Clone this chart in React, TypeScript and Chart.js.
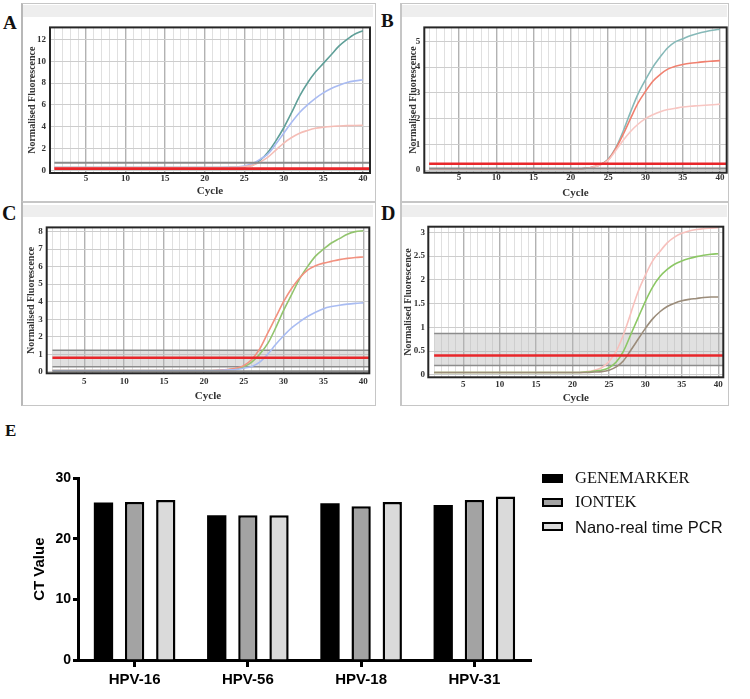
import React, { useEffect, useRef } from "react";
import { Chart, registerables } from "chart.js";

Chart.register(...registerables);

// ---------- DATA ----------
const CYCLES = [1, 2, 3, 4, 5, 6, 7, 8, 9, 10, 11, 12, 13, 14, 15, 16, 17, 18, 19, 20, 21, 22, 23, 24, 25, 26, 27, 28, 29, 30, 31, 32, 33, 34, 35, 36, 37, 38, 39, 40];
const X_LABELED = [5, 10, 15, 20, 25, 30, 35, 40];

// Panel A
const A_TEAL = [0.25, 0.25, 0.25, 0.25, 0.25, 0.25, 0.25, 0.25, 0.25, 0.25, 0.25, 0.25, 0.25, 0.25, 0.25, 0.25, 0.25, 0.25, 0.25, 0.25, 0.25, 0.25, 0.26, 0.28, 0.33, 0.45, 0.9, 1.65, 2.7, 3.9, 5.3, 6.8, 8.0, 9.0, 9.8, 10.6, 11.4, 12.0, 12.5, 12.8];
const A_BLUE = [0.25, 0.25, 0.25, 0.25, 0.25, 0.25, 0.25, 0.25, 0.25, 0.25, 0.25, 0.25, 0.25, 0.25, 0.25, 0.25, 0.25, 0.25, 0.25, 0.25, 0.25, 0.25, 0.27, 0.3, 0.4, 0.6, 1.0, 1.5, 2.4, 3.4, 4.4, 5.3, 6.0, 6.6, 7.1, 7.5, 7.8, 8.05, 8.2, 8.3];
const A_PINK = [0.25, 0.25, 0.25, 0.25, 0.25, 0.25, 0.25, 0.25, 0.25, 0.25, 0.25, 0.25, 0.25, 0.25, 0.25, 0.25, 0.25, 0.25, 0.25, 0.25, 0.25, 0.25, 0.26, 0.28, 0.33, 0.45, 0.75, 1.2, 1.85, 2.5, 3.0, 3.4, 3.65, 3.85, 3.95, 4.02, 4.06, 4.09, 4.11, 4.13];
const A_Y_TICKS = [0, 2, 4, 6, 8, 10, 12];
const A_RED = 0.15;
const A_GRAY = [0.68];

// Panel B
const B_TEAL = [0.05, 0.05, 0.05, 0.05, 0.05, 0.05, 0.05, 0.05, 0.05, 0.05, 0.05, 0.05, 0.05, 0.05, 0.05, 0.05, 0.05, 0.05, 0.05, 0.05, 0.05, 0.07, 0.12, 0.22, 0.42, 0.85, 1.5, 2.25, 2.95, 3.5, 4.0, 4.4, 4.75, 4.98, 5.1, 5.22, 5.3, 5.37, 5.43, 5.47];
const B_RED = [0.05, 0.05, 0.05, 0.05, 0.05, 0.05, 0.05, 0.05, 0.05, 0.05, 0.05, 0.05, 0.05, 0.05, 0.05, 0.05, 0.05, 0.05, 0.05, 0.05, 0.05, 0.07, 0.12, 0.22, 0.4, 0.82, 1.38, 2.0, 2.6, 3.05, 3.45, 3.72, 3.92, 4.03, 4.1, 4.15, 4.18, 4.21, 4.23, 4.25];
const B_PINK = [0.05, 0.05, 0.05, 0.05, 0.05, 0.05, 0.05, 0.05, 0.05, 0.05, 0.05, 0.05, 0.05, 0.05, 0.05, 0.05, 0.05, 0.05, 0.05, 0.05, 0.05, 0.07, 0.12, 0.21, 0.38, 0.75, 1.15, 1.5, 1.78, 2.0, 2.15, 2.27, 2.35, 2.4, 2.45, 2.48, 2.5, 2.52, 2.54, 2.56];
const B_Y_TICKS = [0, 1, 2, 3, 4, 5];
const B_THRESH_RED = 0.25;
const B_GRAY = [0.06];

// Panel C
const C_GREEN = [0.07, 0.07, 0.07, 0.07, 0.07, 0.07, 0.07, 0.07, 0.07, 0.07, 0.07, 0.07, 0.07, 0.07, 0.07, 0.07, 0.07, 0.07, 0.07, 0.07, 0.07, 0.08, 0.11, 0.17, 0.28, 0.55, 1.0, 1.6, 2.5, 3.5, 4.4, 5.3, 6.0, 6.6, 7.0, 7.35, 7.6, 7.85, 8.0, 8.05];
const C_SALMON = [0.07, 0.07, 0.07, 0.07, 0.07, 0.07, 0.07, 0.07, 0.07, 0.07, 0.07, 0.07, 0.07, 0.07, 0.07, 0.07, 0.07, 0.07, 0.07, 0.07, 0.07, 0.09, 0.13, 0.2, 0.35, 0.7, 1.3, 2.2, 3.1, 4.0, 4.75, 5.35, 5.8, 6.05, 6.2, 6.3, 6.4, 6.47, 6.52, 6.55];
const C_BLUE = [0.07, 0.07, 0.07, 0.07, 0.07, 0.07, 0.07, 0.07, 0.07, 0.07, 0.07, 0.07, 0.07, 0.07, 0.07, 0.07, 0.07, 0.07, 0.07, 0.07, 0.07, 0.08, 0.1, 0.12, 0.2, 0.3, 0.55, 1.0, 1.55, 2.05, 2.5, 2.85, 3.15, 3.4, 3.6, 3.72, 3.8, 3.86, 3.9, 3.93];
const C_Y_TICKS = [0, 1, 2, 3, 4, 5, 6, 7, 8];
const C_THRESH_RED = 0.8;
const C_BAND = [0.29, 1.22];
const C_GRAY = [0.02];

// Panel D
const D_PINK = [0.05, 0.05, 0.05, 0.05, 0.05, 0.05, 0.05, 0.05, 0.05, 0.05, 0.05, 0.05, 0.05, 0.05, 0.05, 0.05, 0.05, 0.05, 0.05, 0.05, 0.05, 0.07, 0.1, 0.15, 0.28, 0.5, 0.85, 1.3, 1.75, 2.1, 2.4, 2.6, 2.78, 2.9, 2.98, 3.03, 3.06, 3.08, 3.09, 3.1];
const D_GREEN = [0.05, 0.05, 0.05, 0.05, 0.05, 0.05, 0.05, 0.05, 0.05, 0.05, 0.05, 0.05, 0.05, 0.05, 0.05, 0.05, 0.05, 0.05, 0.05, 0.05, 0.05, 0.06, 0.08, 0.1, 0.15, 0.27, 0.5, 0.85, 1.2, 1.55, 1.85, 2.07, 2.22, 2.33, 2.4, 2.45, 2.49, 2.52, 2.54, 2.55];
const D_BROWN = [0.05, 0.05, 0.05, 0.05, 0.05, 0.05, 0.05, 0.05, 0.05, 0.05, 0.05, 0.05, 0.05, 0.05, 0.05, 0.05, 0.05, 0.05, 0.05, 0.05, 0.05, 0.05, 0.06, 0.07, 0.1, 0.17, 0.3, 0.52, 0.75, 0.98, 1.18, 1.33, 1.44, 1.51, 1.56, 1.59, 1.61, 1.63, 1.64, 1.64];
const D_Y_TICKS = [0, 0.5, 1, 1.5, 2, 2.5, 3];
const D_THRESH_RED = 0.41;
const D_BAND = [0.2, 0.87];
const D_GRAY: number[] = [];

// Panel E
const E_CATEGORIES = ["HPV-16", "HPV-56", "HPV-18", "HPV-31"];
const E_SERIES = ["GENEMARKER", "IONTEK", "Nano-real time PCR"];
const E_GENEMARKER = [26.0, 23.9, 25.9, 25.6];
const E_IONTEK = [26.1, 23.9, 25.4, 26.4];
const E_NANO = [26.4, 23.9, 26.1, 27.0];
const E_Y_TICKS = [0, 10, 20, 30];

// ---------- STYLE / LAYOUT ----------
const SERIF = "'Liberation Serif', 'Times New Roman', serif";
const SANS = "'Liberation Sans', Arial, sans-serif";

const PANELS = [
  {
    key: "A", left: 23, top: 18, w: 351, h: 184, plot: { l: 27, r: 347, t: 4, b: 155 },
    xMin: 0.45, xMax: 40.9, yMin: -0.25, yMax: 13.1, yTicks: A_Y_TICKS,
    curves: [{ v: A_PINK, c: "#f5bdb6" }, { v: A_BLUE, c: "#a9bbf2" }, { v: A_TEAL, c: "#5f9f98" }],
    red: A_RED, gray: A_GRAY, band: null as number[] | null,
    yTickPad: 4, xTickPad: 0, yTitlePad: 3, xTitlePad: 4,
  },
  {
    key: "B", left: 402, top: 18, w: 326, h: 184, plot: { l: 22.3, r: 324.7, t: 5.3, b: 154.7 },
    xMin: 0.35, xMax: 40.9, yMin: -0.1, yMax: 5.54, yTicks: B_Y_TICKS,
    curves: [{ v: B_PINK, c: "#f8c6c2" }, { v: B_RED, c: "#f0806f" }, { v: B_TEAL, c: "#86b9b8" }],
    red: B_THRESH_RED, gray: B_GRAY, band: null as number[] | null,
    yTickPad: 4, xTickPad: 0, yTitlePad: 5, xTitlePad: 2,
  },
  {
    key: "C", left: 23, top: 218, w: 351, h: 187, plot: { l: 23.7, r: 346.3, t: 4.3, b: 155.3 },
    xMin: 0.28, xMax: 40.75, yMin: -0.09, yMax: 8.24, yTicks: C_Y_TICKS,
    curves: [{ v: C_BLUE, c: "#a9bcf2" }, { v: C_SALMON, c: "#f2917f" }, { v: C_GREEN, c: "#92c46e" }],
    red: C_THRESH_RED, gray: C_GRAY, band: C_BAND,
    yTickPad: 4, xTickPad: 3, yTitlePad: 2.7, xTitlePad: 2,
  },
  {
    key: "D", left: 401, top: 218, w: 327, h: 187, plot: { l: 27.3, r: 322.3, t: 4.3, b: 159.3 },
    xMin: 0.2, xMax: 40.7, yMin: -0.05, yMax: 3.12, yTicks: D_Y_TICKS,
    curves: [{ v: D_BROWN, c: "#9b8c7a" }, { v: D_GREEN, c: "#8cc765" }, { v: D_PINK, c: "#f7c0bc" }],
    red: D_THRESH_RED, gray: D_GRAY, band: D_BAND,
    yTickPad: 3.3, xTickPad: 2, yTitlePad: 1.3, xTitlePad: 0,
  },
];

const FRAMES = [
  { left: 21, top: 3, width: 355, height: 200 },
  { left: 400, top: 3, width: 329, height: 200 },
  { left: 21, top: 201, width: 355, height: 205 },
  { left: 400, top: 201, width: 329, height: 205 },
];
const HEADERS = [
  { left: 23, top: 5, width: 350, height: 12 },
  { left: 402, top: 5, width: 325, height: 12 },
  { left: 23, top: 205, width: 350, height: 12 },
  { left: 402, top: 205, width: 325, height: 12 },
];
const LETTERS = [
  { t: "A", left: 3, top: 13, size: 19 },
  { t: "B", left: 381, top: 11, size: 19 },
  { t: "C", left: 2, top: 203, size: 20 },
  { t: "D", left: 381, top: 203, size: 20 },
  { t: "E", left: 5, top: 422, size: 17 },
];

const plotBox = {
  id: "plotBox",
  afterDraw(chart: any) {
    const { ctx, chartArea: a } = chart;
    ctx.save();
    ctx.strokeStyle = "#262626";
    ctx.lineWidth = 2;
    ctx.strokeRect(a.left, a.top, a.right - a.left, a.bottom - a.top);
    ctx.restore();
  },
};

function QpcrPanel({ s }: { s: (typeof PANELS)[number] }) {
  const ref = useRef<HTMLCanvasElement | null>(null);
  useEffect(() => {
    if (!ref.current) return;
    const x0 = CYCLES[0];
    const hline = (y: number) => [{ x: x0, y }, { x: s.xMax, y }];
    const datasets: any[] = [];
    s.curves.forEach((c) => {
      datasets.push({
        data: CYCLES.map((x, i) => ({ x, y: c.v[i] })),
        borderColor: c.c, borderWidth: 1.6, pointRadius: 0,
        cubicInterpolationMode: "monotone", fill: false, order: 1,
      });
    });
    if (s.band) {
      datasets.push({
        data: hline(s.band[1]), borderColor: "#8c8c8c", borderWidth: 1.5, pointRadius: 0,
        fill: { value: s.band[0] }, backgroundColor: "rgba(180,180,180,0.42)", order: 3,
      });
      datasets.push({ data: hline(s.band[0]), borderColor: "#8c8c8c", borderWidth: 1.5, pointRadius: 0, fill: false, order: 2 });
    }
    s.gray.forEach((g) => {
      datasets.push({ data: hline(g), borderColor: "#8a8a8a", borderWidth: 2, pointRadius: 0, fill: false, order: 0 });
    });
    datasets.push({ data: hline(s.red), borderColor: "#e8262a", borderWidth: 2.6, pointRadius: 0, fill: false, order: 0 });

    const tickFont = { family: SERIF, size: 9, weight: "bold" as const };
    const chart = new Chart(ref.current, {
      type: "line",
      data: { datasets },
      plugins: [plotBox],
      options: {
        animation: false,
        responsive: false,
        maintainAspectRatio: false,
        events: [],
        layout: { padding: { top: s.plot.t, right: s.w - s.plot.r, left: 0, bottom: 0 } },
        plugins: { legend: { display: false }, tooltip: { enabled: false } },
        scales: {
          x: {
            type: "linear", min: s.xMin, max: s.xMax,
            afterBuildTicks: (sc: any) => { sc.ticks = CYCLES.map((v) => ({ value: v })); },
            afterFit: (sc: any) => { sc.height = s.h - s.plot.b; },
            ticks: {
              autoSkip: false, maxRotation: 0, minRotation: 0, padding: s.xTickPad,
              font: tickFont, color: "#333",
              callback: (v: any) => (X_LABELED.includes(Number(v)) ? String(v) : ""),
            },
            grid: {
              drawTicks: false,
              color: (c: any) => (c.tick && X_LABELED.includes(c.tick.value) ? "#b2b2b2" : "#e0e0e0"),
              lineWidth: (c: any) => (c.tick && X_LABELED.includes(c.tick.value) ? 1.4 : 1),
            },
            border: { display: false },
            title: {
              display: true, text: "Cycle", color: "#333",
              font: { family: SERIF, size: 11, weight: "bold" },
              padding: { top: 0, bottom: s.xTitlePad },
            },
          },
          y: {
            type: "linear", min: s.yMin, max: s.yMax,
            afterBuildTicks: (sc: any) => { sc.ticks = s.yTicks.map((v) => ({ value: v })); },
            afterFit: (sc: any) => { sc.width = s.plot.l; },
            ticks: { padding: s.yTickPad, font: tickFont, color: "#333", callback: (v: any) => String(v) },
            grid: { drawTicks: false, color: "#cdcdcd", lineWidth: 1 },
            border: { display: false },
            title: {
              display: true, text: "Normalised Fluorescence", color: "#333",
              font: { family: SERIF, size: 10, weight: "bold" },
              padding: { top: s.yTitlePad, bottom: 0 },
            },
          },
        },
      } as any,
    });
    return () => chart.destroy();
  }, [s]);
  return (
    <canvas
      ref={ref}
      width={s.w}
      height={s.h}
      style={{ position: "absolute", left: s.left, top: s.top, width: s.w, height: s.h }}
    />
  );
}

const E_BOX = { left: 0, top: 440, w: 545, h: 259, plotL: 78, plotR: 531, plotT: 38.3, plotB: 220 };
const E_COLORS = ["#000000", "#a3a3a3", "#dadada"];
const E_BORDERS = [0, 2.5, 2.5];

function BarPanel() {
  const ref = useRef<HTMLCanvasElement | null>(null);
  useEffect(() => {
    if (!ref.current) return;
    const values = [E_GENEMARKER, E_IONTEK, E_NANO];
    const chart = new Chart(ref.current, {
      type: "bar",
      data: {
        labels: E_CATEGORIES,
        datasets: values.map((v, i) => ({
          label: E_SERIES[i], data: v, backgroundColor: E_COLORS[i],
          borderColor: "#000", borderWidth: E_BORDERS[i],
        })),
      },
      options: {
        animation: false,
        responsive: false,
        maintainAspectRatio: false,
        events: [],
        layout: { padding: { top: E_BOX.plotT, right: E_BOX.w - E_BOX.plotR, left: 0, bottom: 0 } },
        datasets: { bar: { categoryPercentage: 0.825, barPercentage: 0.62 } },
        plugins: { legend: { display: false }, tooltip: { enabled: false } },
        scales: {
          x: {
            afterFit: (sc: any) => { sc.height = E_BOX.h - E_BOX.plotB; },
            grid: { drawOnChartArea: false, offset: false, drawTicks: true, tickLength: 7, tickWidth: 3, tickColor: "#000" },
            border: { display: true, color: "#000", width: 3 },
            ticks: { font: { family: SANS, size: 15, weight: "bold" }, color: "#000", padding: 4 },
          },
          y: {
            min: 0, max: 30,
            afterBuildTicks: (sc: any) => { sc.ticks = E_Y_TICKS.map((v) => ({ value: v })); },
            afterFit: (sc: any) => { sc.width = E_BOX.plotL; },
            grid: { drawOnChartArea: false, drawTicks: true, tickLength: 5, tickWidth: 3, tickColor: "#000" },
            border: { display: true, color: "#000", width: 3 },
            ticks: { font: { family: SANS, size: 14, weight: "bold" }, color: "#000", padding: 2 },
            title: {
              display: true, text: "CT Value", color: "#000",
              font: { family: SANS, size: 15, weight: "bold" },
              padding: { top: 31, bottom: 0 },
            },
          },
        },
      } as any,
    });
    return () => chart.destroy();
  }, []);
  return (
    <canvas
      ref={ref}
      width={E_BOX.w}
      height={E_BOX.h}
      style={{ position: "absolute", left: E_BOX.left, top: E_BOX.top, width: E_BOX.w, height: E_BOX.h }}
    />
  );
}

const LEGEND_ROWS = [
  { y: 478.3, font: SERIF },
  { y: 502.3, font: SERIF },
  { y: 526.7, font: SANS },
];

export default function App() {
  return (
    <div style={{ position: "absolute", left: 0, top: 0, width: 750, height: 699, overflow: "hidden", background: "#fff" }}>
      {FRAMES.map((f, i) => (
        <div
          key={"f" + i}
          style={{
            position: "absolute", left: f.left, top: f.top, width: f.width, height: f.height,
            boxSizing: "border-box", border: "1px solid #c6c6c6",
            borderLeft: i % 2 === 0 ? "2px solid #b8b8b8" : "2px solid #c6c6c6",
          }}
        />
      ))}
      {HEADERS.map((h, i) => (
        <div key={"h" + i} style={{ position: "absolute", left: h.left, top: h.top, width: h.width, height: h.height, background: "#eeeeee" }} />
      ))}
      {PANELS.map((p) => (
        <QpcrPanel key={p.key} s={p} />
      ))}
      <BarPanel />
      {LETTERS.map((l) => (
        <div
          key={l.t}
          style={{
            position: "absolute", left: l.left, top: l.top, fontFamily: SERIF, fontWeight: "bold",
            fontSize: l.size, lineHeight: 1, color: "#111",
          }}
        >
          {l.t}
        </div>
      ))}
      {LEGEND_ROWS.map((r, i) => (
        <React.Fragment key={"lg" + i}>
          <div
            style={{
              position: "absolute", left: 542, top: r.y - 4.5, width: 21, height: 9,
              boxSizing: "border-box", border: "2px solid #000", background: E_COLORS[i],
            }}
          />
          <div
            style={{
              position: "absolute", left: 575, top: r.y - 10, height: 20, lineHeight: "20px",
              fontFamily: r.font, fontSize: 16.5, color: "#111", whiteSpace: "nowrap",
            }}
          >
            {E_SERIES[i]}
          </div>
        </React.Fragment>
      ))}
    </div>
  );
}
